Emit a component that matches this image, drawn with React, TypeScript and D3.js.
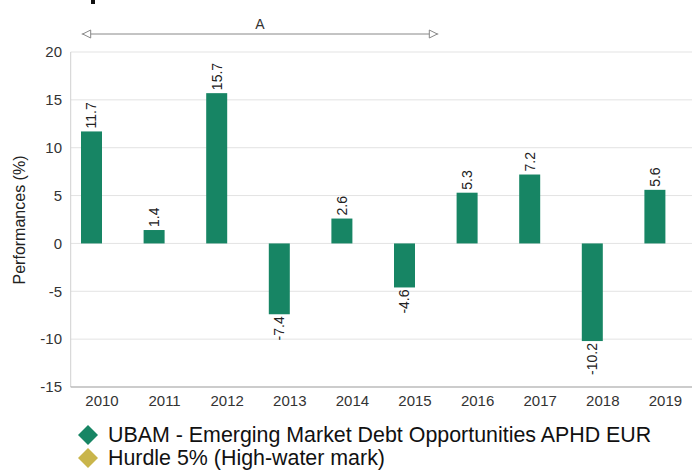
import React from "react";
import * as d3 from "d3";

const years = ["2010","2011","2012","2013","2014","2015","2016","2017","2018","2019"];
const fundValues = [11.7, 1.4, 15.7, -7.4, 2.6, -4.6, 5.3, 7.2, -10.2, 5.6];
const yTicks = [-15, -10, -5, 0, 5, 10, 15, 20];
const legendLabels = ["UBAM - Emerging Market Debt Opportunities APHD EUR", "Hurdle 5% (High-water mark)"];
const legendColors = ["#178564", "#c9b54b"];
const annotationLabel = "A";
const annotationRange = ["2010", "2015"];

const W = 692, H = 471;
const FONT = "'Liberation Sans', Arial, sans-serif";

export default function App() {
  const plotLeft = 70.7;
  const step = 62.6;
  const x = d3.scaleBand<string>().domain(years).range([plotLeft, plotLeft + step * years.length]).padding(0);
  const y = d3.scaleLinear().domain([-15, 20]).range([387, 52]);
  const barW = 21;
  const cx = (c: string) => (x(c) as number) + x.bandwidth() / 2;

  const annStart = (x(annotationRange[0]) as number) + 11;
  const annEnd = (x(annotationRange[1]) as number) + x.bandwidth() - 8;

  return (
    <svg width={W} height={H} style={{ position: "absolute", left: 0, top: 0, fontFamily: FONT }}>
      <defs>
        <marker id="arr" viewBox="0 0 10 10" refX="10" refY="5" markerWidth="10" markerHeight="10" orient="auto-start-reverse" markerUnits="userSpaceOnUse">
          <path d="M1,1 L9,5 L1,9 Z" fill="#fff" stroke="#888" strokeWidth="1" />
        </marker>
      </defs>
      <rect x={91} y={0} width={4} height={4} fill="#111" />
      {yTicks.map((t) => (
        <g key={t}>
          {t !== -15 && <line x1={plotLeft} x2={W} y1={y(t)} y2={y(t)} stroke="#e3e3e3" strokeWidth={1} />}
          <text x={62} y={y(t)} dy="0.35em" textAnchor="end" fontSize={15} fill="#333">{t}</text>
        </g>
      ))}
      <line x1={plotLeft} x2={plotLeft} y1={y(20)} y2={y(-15)} stroke="#d0d0d0" />
      <line x1={plotLeft} x2={W} y1={y(-15)} y2={y(-15)} stroke="#999" />
      {years.map((c) => (
        <text key={c} x={cx(c)} y={406} textAnchor="middle" fontSize={15} fill="#333">{c}</text>
      ))}
      {years.map((c, i) => {
        const v = fundValues[i];
        const bx = cx(c) - barW;
        const top = y(Math.max(0, v));
        const bot = y(Math.min(0, v));
        const mid = bx + barW / 2;
        const ly = v >= 0 ? top - 3 : bot + 2;
        return (
          <g key={c}>
            <rect x={bx} y={top} width={barW} height={bot - top} fill={legendColors[0]} />
            <text transform={`translate(${mid},${ly}) rotate(-90)`} textAnchor={v >= 0 ? "start" : "end"} dy="0.35em" fontSize={14} fill="#222">{v.toFixed(1)}</text>
          </g>
        );
      })}
      <text x={-220} y={25} transform="rotate(-90)" textAnchor="middle" fontSize={16} fill="#222">Performances (%)</text>
      <line x1={annStart} x2={annEnd} y1={34} y2={34} stroke="#888" strokeWidth={1} markerStart="url(#arr)" markerEnd="url(#arr)" />
      <text x={(annStart + annEnd) / 2} y={29} textAnchor="middle" fontSize={14} fill="#333">{annotationLabel}</text>
      {legendLabels.map((l, i) => {
        const ly = 435 + i * 23;
        return (
          <g key={l}>
            <path d={`M88,${ly - 10} L98,${ly} L88,${ly + 10} L78,${ly} Z`} fill={legendColors[i]} />
            <text x={108} y={ly} dy="0.35em" fontSize={21.4} fill="#111">{l}</text>
          </g>
        );
      })}
    </svg>
  );
}
